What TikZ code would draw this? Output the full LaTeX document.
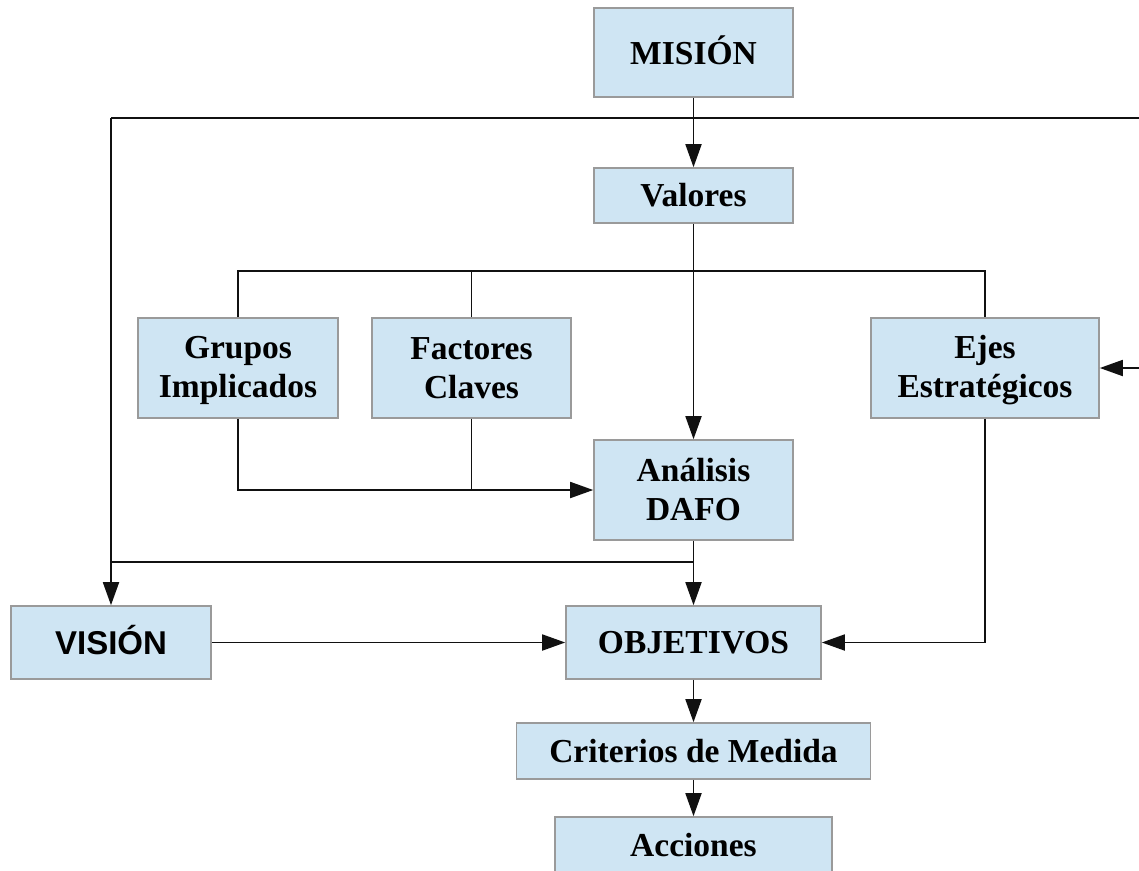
\documentclass[tikz,border=0pt]{standalone}
\usepackage{fontspec}
\setmainfont{Liberation Serif}
\newfontfamily\visfont{Liberation Sans}
\usetikzlibrary{arrows.meta}
\definecolor{boxfill}{HTML}{CFE5F3}
\definecolor{boxborder}{HTML}{9A9A9A}
\definecolor{linecol}{HTML}{111111}
\newcommand{\st}{\rule[-5pt]{0pt}{32pt}}
\begin{document}
\begin{tikzpicture}[x=1pt,y=-1pt,
  box/.style={draw=boxborder, fill=boxfill, line width=1.6pt, inner sep=0pt, align=center,
    font=\fontsize{33.5}{39}\selectfont\bfseries, text=black},
  conn/.style={line width=1.8pt, draw=linecol},
  arr/.style={conn, -{Triangle[length=23pt,width=16pt]}}]
\clip (0,0) rectangle (1139,870);
\fill[white] (0,0) rectangle (1139,870);

\node[box, minimum width=199pt, minimum height=89pt] (mision) at (693.5,52.5) {\st MISIÓN};
\node[box, minimum width=199pt, minimum height=55pt] (valores) at (693.5,195.5) {\st Valores};
\node[box, minimum width=200pt, minimum height=100pt] (grupos) at (238,368) {\st Grupos\\\st Implicados};
\node[box, minimum width=199pt, minimum height=100pt] (factores) at (471.5,368) {\st Factores\\\st Claves};
\node[box, minimum width=228pt, minimum height=100pt] (ejes) at (985,368) {\st Ejes\\\st Estratégicos};
\node[box, minimum width=199pt, minimum height=100pt] (analisis) at (693.5,490) {\st Análisis\\\st DAFO};
\node[box, minimum width=200pt, minimum height=73pt, font=\fontsize{33}{39}\visfont\bfseries] (vision) at (111,642.5) {\st VISIÓN};
\node[box, minimum width=255pt, minimum height=73pt] (objetivos) at (693.5,642.5) {\st OBJETIVOS};
\node[box, minimum width=354pt, minimum height=56pt] (criterios) at (693.5,751) {\st Criterios de Medida};
\node[box, minimum width=277pt, minimum height=56pt] (acciones) at (693.5,845) {\st Acciones};

\coordinate (tl) at (111,118);
\coordinate (tr) at (1139,118);
\coordinate (er) at (1139,368);
\coordinate (hb) at (693.5,271);
\coordinate (jn) at (693.5,562);

\draw[conn] (tl) -- (tr);
\draw[arr] (mision) -- (valores);
\draw[arr] (tl) -- (vision.north);
\draw[arr] (er) -- (ejes.east);
\draw[arr] (valores) -- (analisis);
\draw[conn] (grupos.north) |- (hb) -| (ejes.north);
\draw[conn] (factores.north) -- (factores.north |- hb);
\draw[arr] (grupos.south) |- (analisis.west);
\draw[conn] (factores.south) -- (factores.south |- analisis.west);
\draw[arr] (analisis) -- (objetivos);
\draw[conn] (jn) -- (jn -| vision.north);
\draw[arr] (vision) -- (objetivos);
\draw[arr] (ejes.south) |- (objetivos.east);
\draw[arr] (objetivos) -- (criterios);
\draw[arr] (criterios) -- (acciones);
\end{tikzpicture}
\end{document}
